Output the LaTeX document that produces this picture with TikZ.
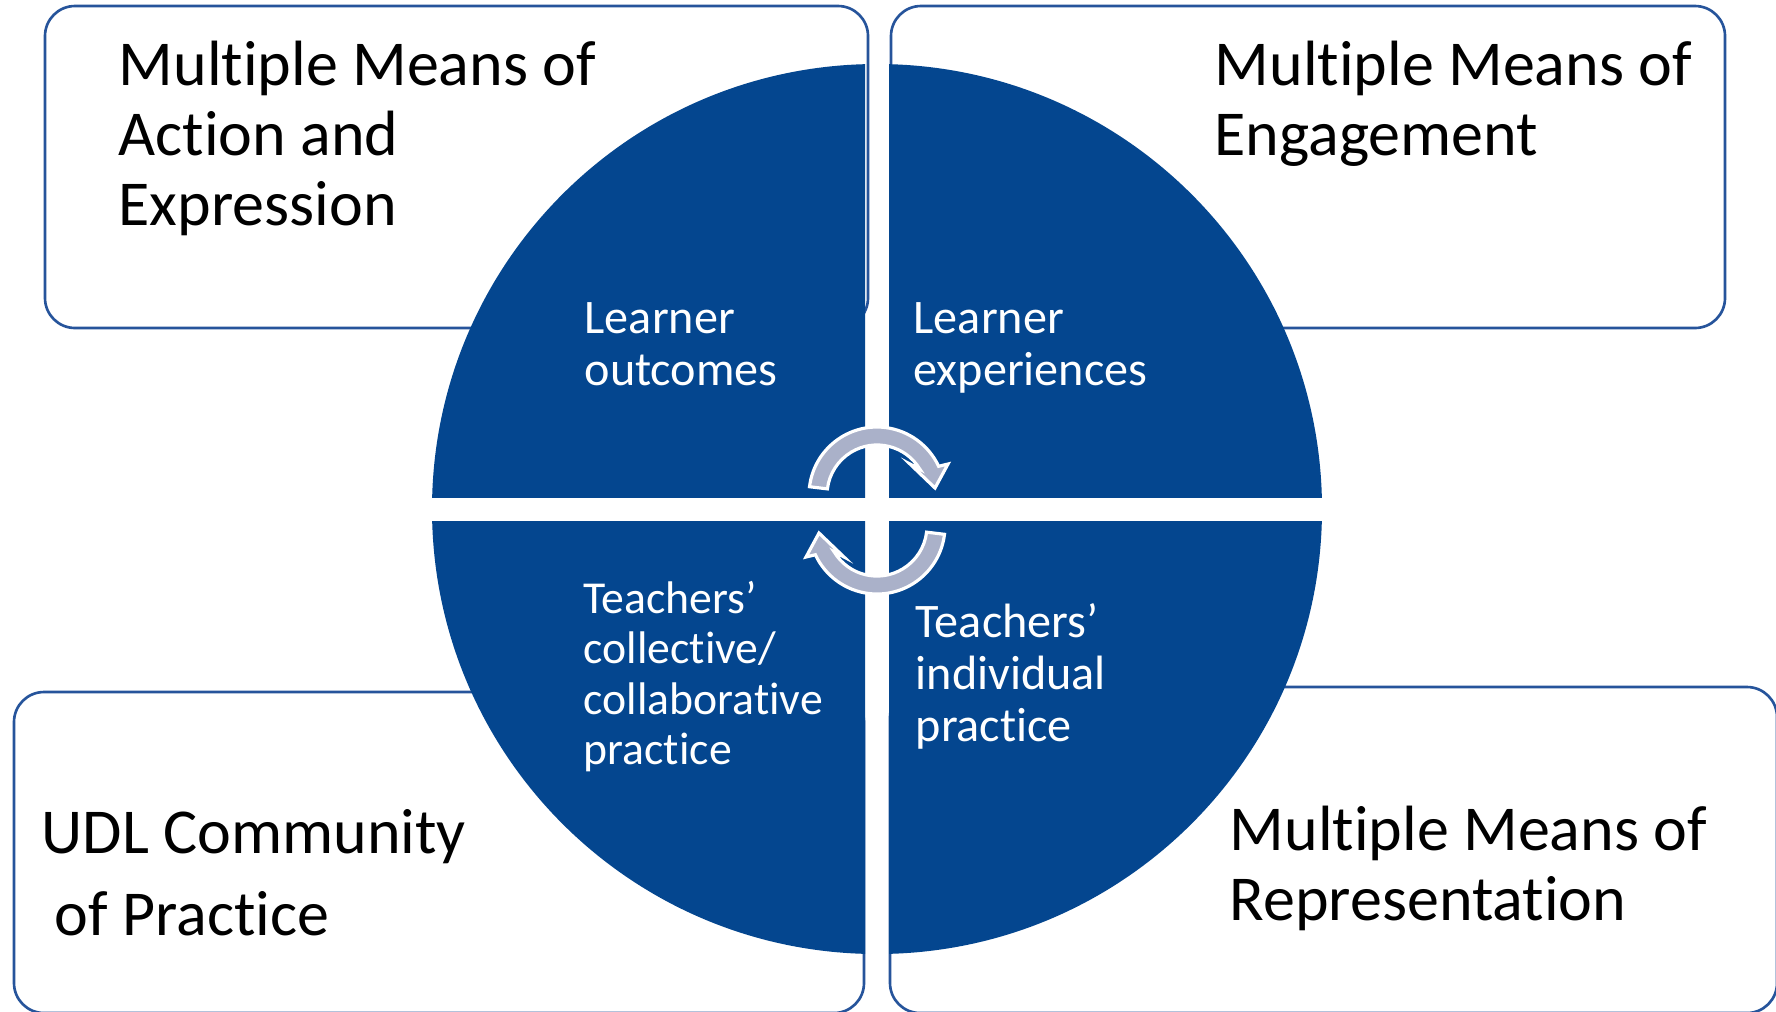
\documentclass[tikz,border=0pt]{standalone}
\usepackage{fontspec}
\setmainfont{Carlito}[RawFeature={-liga;-clig;-calt;-dlig;-rlig}]
\definecolor{qblue}{RGB}{4,70,143}
\definecolor{boxblue}{RGB}{38,84,155}
\definecolor{arrowgray}{RGB}{170,177,201}
\begin{document}
\begin{tikzpicture}[x=0.01cm,y=-0.01cm,
  big/.style={font=\fontsize{18.2}{21}\selectfont, anchor=base west, inner sep=0pt, text=black},
  small/.style={font=\fontsize{13.7}{15}\selectfont, anchor=base west, inner sep=0pt, text=white},
  smaller/.style={font=\fontsize{13}{15}\selectfont, anchor=base west, inner sep=0pt, text=white},
  udlbox/.style={draw=boxblue, line width=0.75pt, fill=white, rounded corners=0.3cm},
  quad/.style={fill=qblue},
  cycarrow/.style={fill=arrowgray, draw=white, line width=0.9pt, line join=miter}]
\useasboundingbox (0,0) rectangle (1776,1011);
\clip (0,0) rectangle (1776,1011);
\fill[white] (0,0) rectangle (1776,1011);
% boxes
\draw[udlbox] (45,6) rectangle (868,328);
\draw[udlbox] (891,6) rectangle (1725,328);
\draw[udlbox] (14,692) rectangle (864,1013);
\draw[udlbox] (890,687) rectangle (1777,1013);
% quadrants
\begin{scope}\clip (0,0) rectangle (865,497); \fill[quad] (877,509) circle[radius=445]; \end{scope}
\begin{scope}\clip (889,0) rectangle (1776,497); \fill[quad] (877,509) circle[radius=445]; \end{scope}
\begin{scope}\clip (0,521) rectangle (865,1011); \fill[quad] (877,509) circle[radius=445]; \end{scope}
\begin{scope}\clip (889,521) rectangle (1776,1011); \fill[quad] (877,509) circle[radius=445]; \end{scope}
% circular arrows
\draw[cycarrow] (877,495) ++(-173:68) arc[start angle=-173, end angle=-25, radius=68]
  -- (948,464) -- (935,488) -- (910,464) -- (919.9,469.2)
  arc[start angle=-31, end angle=-173, radius=50] -- cycle;
\begin{scope}[rotate around={180:(877,510.5)}]
\draw[cycarrow] (877,495) ++(-173:68) arc[start angle=-173, end angle=-25, radius=68]
  -- (948,464) -- (935,488) -- (910,464) -- (919.9,469.2)
  arc[start angle=-31, end angle=-173, radius=50] -- cycle;
\end{scope}
% box texts
\node[big] (tl1) at (118,85) {Multiple Means of};
\node[big] (tl2) at (118,155) {Action and};
\node[big] (tl3) at (118,225) {Expression};
\node[big] (tr1) at (1214,85) {Multiple Means of};
\node[big] (tr2) at (1214,155) {Engagement};
\node[big] (bl1) at (41,853) {UDL Community};
\node[big] (bl2) at (54,935) {of Practice};
\node[big] (br1) at (1229,850) {Multiple Means of};
\node[big] (br2) at (1229,920) {Representation};
% quadrant texts
\node[small] (q11) at (584,333) {Learner};
\node[small] (q12) at (584,385) {outcomes};
\node[small] (q21) at (913,333) {Learner};
\node[small] (q22) at (913,385) {experiences};
\node[smaller] (q31) at (583,613) {Teachers’};
\node[smaller] (q32) at (583,663) {collective/};
\node[smaller] (q33) at (583,714) {collaborative};
\node[smaller] (q34) at (583,764) {practice};
\node[small] (q41) at (915,637) {Teachers’};
\node[small] (q42) at (915,689) {individual};
\node[small] (q43) at (915,741) {practice};
\end{tikzpicture}
\end{document}
